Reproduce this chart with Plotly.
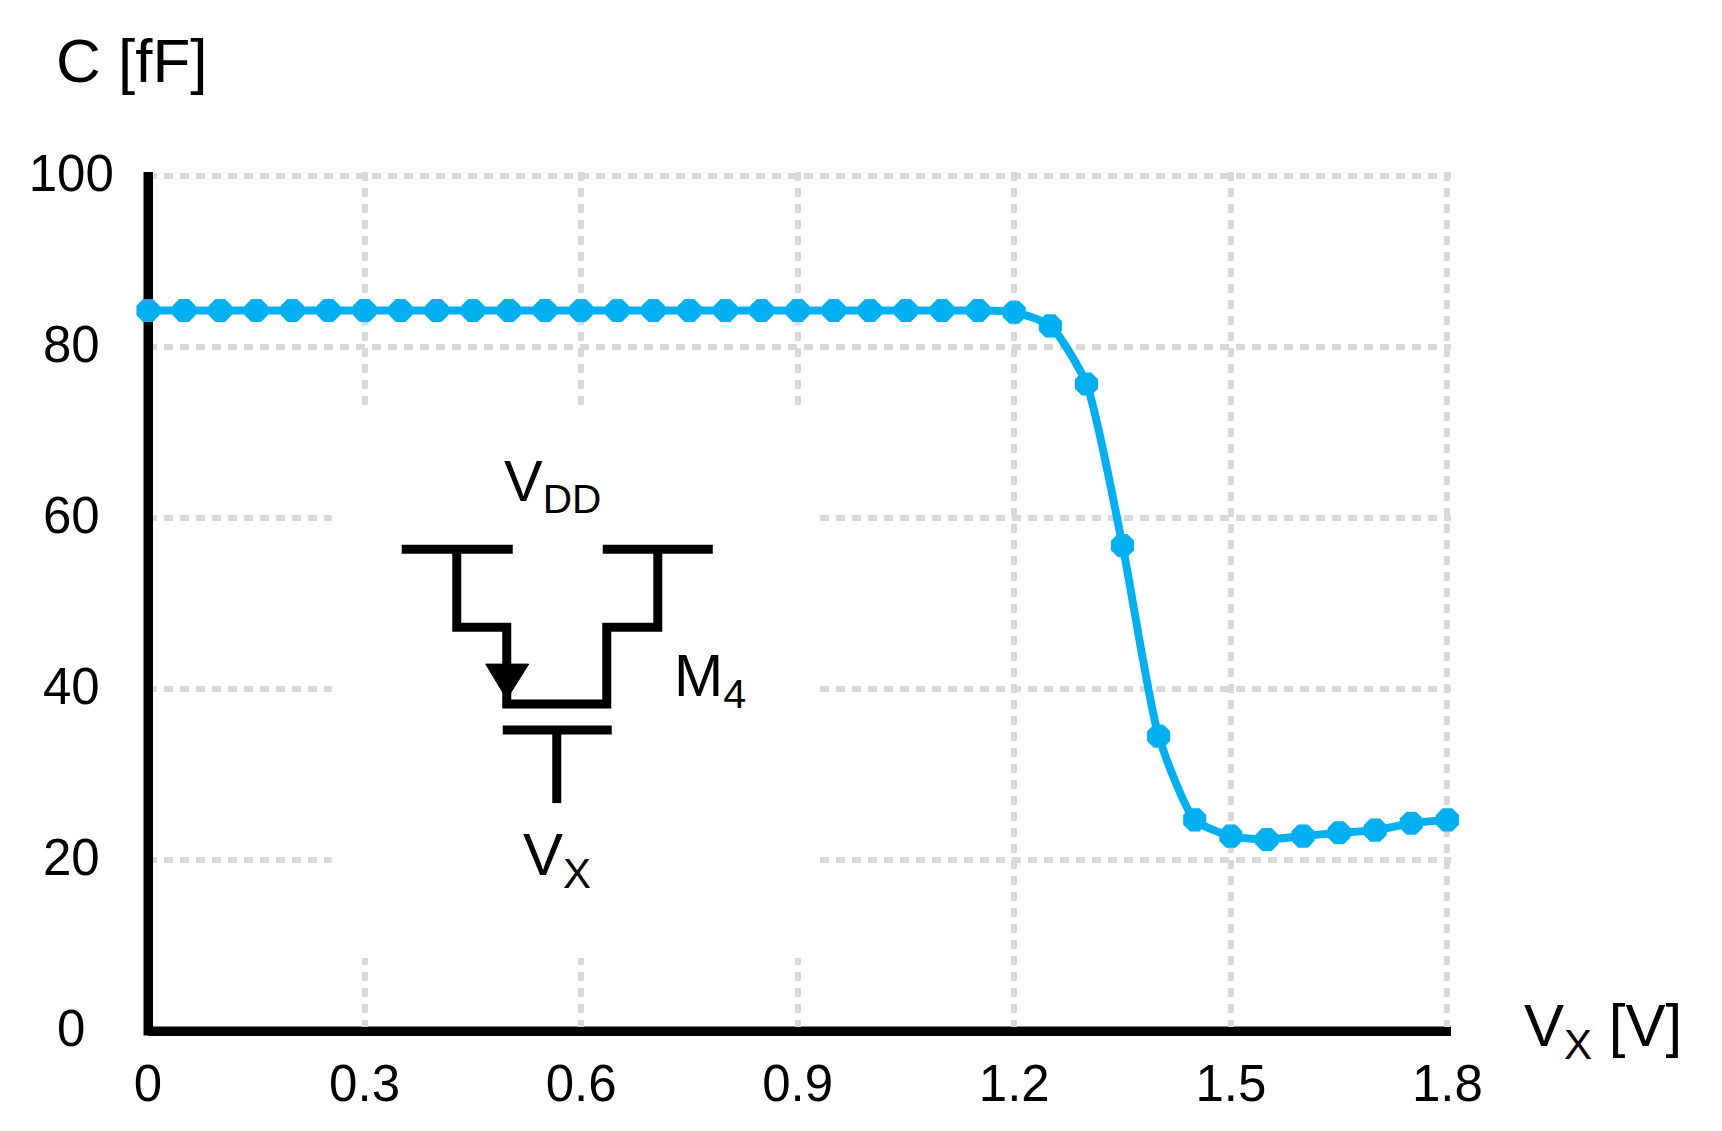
import plotly.graph_objects as go

# ---- data ----
vx = [0, 0.05, 0.1, 0.15, 0.2, 0.25, 0.3, 0.35, 0.4, 0.45, 0.5, 0.55, 0.6, 0.65, 0.7, 0.75,
      0.8, 0.85, 0.9, 0.95, 1.0, 1.05, 1.1, 1.15, 1.2, 1.25, 1.3, 1.35, 1.4, 1.45, 1.5,
      1.55, 1.6, 1.65, 1.7, 1.75, 1.8]
cap = [84.3, 84.3, 84.3, 84.3, 84.3, 84.3, 84.3, 84.3, 84.3, 84.3, 84.3, 84.3, 84.3, 84.3, 84.3, 84.3,
       84.3, 84.3, 84.3, 84.3, 84.3, 84.3, 84.3, 84.3, 84.1, 82.5, 75.7, 56.8, 34.5, 24.7, 22.8,
       22.4, 22.8, 23.2, 23.5, 24.3, 24.7]
x_ticks = [0, 0.3, 0.6, 0.9, 1.2, 1.5, 1.8]
x_labels = ["0", "0.3", "0.6", "0.9", "1.2", "1.5", "1.8"]
y_ticks = [0, 20, 40, 60, 80, 100]
y_labels = ["0\u00a0\u00a0", "20\u00a0", "40\u00a0", "60\u00a0", "80\u00a0", "100"]

W, H = 1722, 1131
# the ranges run a hair past the last ticks so the last grid lines are drawn
XMAX, YMAX = 1.805, 100.5
L, B = 148.3, 1031
R = L + (1447.5 - L) * XMAX / 1.8
T = B - (B - 176) * YMAX / 100
FONT = "Liberation Sans"
BLUE = "#00B0F0"
GRID = "#D9D9D9"


def px(x, y):
    # picture pixels to the plot-area fractions used by xref/yref "paper"
    return (x - L) / (R - L), (B - y) / (B - T)


def path(points, close=False):
    parts = []
    for i, (x, y) in enumerate(points):
        u, v = px(x, y)
        parts.append(("M" if i == 0 else "L") + f"{u:.5f},{v:.5f}")
    return " ".join(parts) + (" Z" if close else "")


def pshape(points, width=9, fill=None, layer="above", lc="black"):
    return dict(type="path", xref="paper", yref="paper", path=path(points, fill is not None),
                line=dict(color=lc, width=width), fillcolor=fill, layer=layer)


u0, v0 = px(332, 958)
u1, v1 = px(820, 406)
shapes = [
    # white panel that interrupts the grid behind the inset
    dict(type="rect", xref="x", yref="y", x0=u0 * XMAX, x1=u1 * XMAX, y0=v0 * YMAX, y1=v1 * YMAX,
         fillcolor="white", line=dict(width=0), layer="between"),
    # axis corner
    pshape([(148.3, 172), (148.3, 1031), (1451, 1031)], layer="below"),
    # transistor symbol
    pshape([(402, 549), (513, 549)]),
    pshape([(603, 549), (713, 549)]),
    pshape([(457, 549), (457, 627), (507, 627), (507, 704), (607, 704), (607, 627), (658, 627), (658, 549)]),
    pshape([(503, 730), (612, 730)]),
    pshape([(557, 730), (557, 803)]),
    pshape([(486, 664), (529, 664), (507, 699)], width=1, fill="black"),
]


def label(x, y, text, size=50, xanchor="left"):
    u, v = px(x, y)
    return dict(x=u, y=v, xref="paper", yref="paper", text=text, showarrow=False, xanchor=xanchor,
                yanchor="middle", font=dict(family=FONT, size=size, color="black"), borderpad=0, borderwidth=0)


annotations = [
    label(56, 60, "C [fF]", 62),
    label(1524, 1030, "V<sub>X</sub> [V]", 60),
    label(504, 485, "V<sub>DD</sub>", 58),
    label(674, 680, "M<sub>4</sub>", 59),
    label(523, 859, "V<sub>X</sub>", 60),
]

fig = go.Figure(go.Scatter(
    x=vx, y=cap, mode="lines+markers",
    line=dict(color=BLUE, width=8, shape="spline", smoothing=0.6),
    marker=dict(color=BLUE, size=25, symbol="octagon", line=dict(width=0)),
    cliponaxis=False, showlegend=False, hoverinfo="skip",
))

axis_common = dict(
    showgrid=True, gridcolor=GRID, gridwidth=6, griddash="9px,7px",
    zeroline=True, zerolinecolor="black", zerolinewidth=9, showline=False,
    ticks="outside", tickcolor="rgba(0,0,0,0)", tickwidth=1,
    tickfont=dict(family=FONT, size=51, color="black"),
    tickmode="array", fixedrange=True,
)

fig.update_layout(
    width=W, height=H,
    margin=dict(l=L, r=W - R, t=T, b=H - B, pad=0, autoexpand=False),
    paper_bgcolor="white", plot_bgcolor="white",
    xaxis=dict(range=[0, XMAX], tickvals=x_ticks, ticktext=x_labels, ticklen=8, **axis_common),
    yaxis=dict(range=[0, YMAX], tickvals=y_ticks, ticktext=y_labels, ticklen=23, ticklabelshift=-3, **axis_common),
    shapes=shapes, annotations=annotations, showlegend=False,
)

fig.write_html("out.html", post_script="document.body.style.margin='0';document.documentElement.style.overflow='hidden';",
               config=dict(displayModeBar=False))
